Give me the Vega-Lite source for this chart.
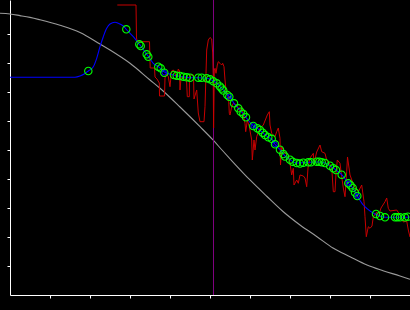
{
  "$schema": "https://vega.github.io/schema/vega-lite/v6.json",
  "width": 400,
  "height": 295,
  "autosize": "none",
  "padding": {"left": 10, "top": 0, "right": 0, "bottom": 15},
  "background": "#000000",
  "config": {
    "view": {"stroke": null},
    "axis": {"domainColor": "#ffffff", "domainWidth": 1, "tickColor": "#ffffff", "tickSize": 3, "tickWidth": 1, "labels": false, "grid": false, "title": null}
  },
  "datasets": {
    "gray": [
      {"x": -0.25, "y": 9.714}, {"x": 0, "y": 9.69}, {"x": 0.25, "y": 9.634}, {"x": 0.5, "y": 9.572}, {"x": 0.75, "y": 9.49},
      {"x": 1.25, "y": 9.3}, {"x": 1.75, "y": 9.052}, {"x": 2.25, "y": 8.655}, {"x": 2.5, "y": 8.448}, {"x": 3.0, "y": 7.99},
      {"x": 3.5, "y": 7.414}, {"x": 3.75, "y": 7.128}, {"x": 4.25, "y": 6.483}, {"x": 4.75, "y": 5.803}, {"x": 5.075, "y": 5.345},
      {"x": 5.3, "y": 5.0}, {"x": 5.575, "y": 4.586}, {"x": 6.0, "y": 3.966}, {"x": 6.425, "y": 3.397}, {"x": 6.825, "y": 2.879},
      {"x": 7.25, "y": 2.414}, {"x": 7.675, "y": 2.01}, {"x": 8.075, "y": 1.621}, {"x": 8.5, "y": 1.321}, {"x": 8.925, "y": 1.034},
      {"x": 9.325, "y": 0.838}, {"x": 9.75, "y": 0.655}, {"x": 10.0, "y": 0.541}
    ],
    "vline": [{"x": 5.0875}],
    "red": [
      {"x": 2.6825, "y": 10.0}, {"x": 3.15, "y": 10.0}, {"x": 3.1625, "y": 8.862}, {"x": 3.1825, "y": 8.734}, {"x": 3.4875, "y": 8.734},
      {"x": 3.505, "y": 7.828}, {"x": 3.6125, "y": 7.828}, {"x": 3.625, "y": 7.517}, {"x": 3.675, "y": 7.448}, {"x": 3.7325, "y": 7.31},
      {"x": 3.7375, "y": 6.862}, {"x": 3.8625, "y": 6.862}, {"x": 3.875, "y": 7.483}, {"x": 3.9125, "y": 7.621}, {"x": 3.9575, "y": 7.528},
      {"x": 4.0, "y": 7.183}, {"x": 4.0375, "y": 7.724}, {"x": 4.0825, "y": 7.759}, {"x": 4.125, "y": 7.655}, {"x": 4.1675, "y": 7.472},
      {"x": 4.2075, "y": 7.793}, {"x": 4.2375, "y": 7.724}, {"x": 4.25, "y": 7.069}, {"x": 4.275, "y": 7.483}, {"x": 4.3325, "y": 7.528},
      {"x": 4.4125, "y": 7.414}, {"x": 4.4325, "y": 6.838}, {"x": 4.4825, "y": 6.838}, {"x": 4.4875, "y": 7.586}, {"x": 4.5875, "y": 7.586},
      {"x": 4.6, "y": 6.759}, {"x": 4.6675, "y": 7.069}, {"x": 4.7075, "y": 6.276}, {"x": 4.75, "y": 5.976}, {"x": 4.85, "y": 5.976},
      {"x": 4.875, "y": 6.493}, {"x": 4.9, "y": 7.645}, {"x": 4.9175, "y": 8.448}, {"x": 4.9575, "y": 8.793}, {"x": 5.0, "y": 8.879},
      {"x": 5.0425, "y": 8.828}, {"x": 5.0675, "y": 8.345}, {"x": 5.08, "y": 7.586}, {"x": 5.09, "y": 5.759}, {"x": 5.1075, "y": 7.759},
      {"x": 5.125, "y": 7.817}, {"x": 5.15, "y": 7.645}, {"x": 5.1825, "y": 7.931}, {"x": 5.2075, "y": 8.045}, {"x": 5.25, "y": 7.99},
      {"x": 5.2925, "y": 7.931}, {"x": 5.3175, "y": 7.99}, {"x": 5.35, "y": 7.872}, {"x": 5.375, "y": 7.414}, {"x": 5.4, "y": 7.069},
      {"x": 5.4325, "y": 6.955}, {"x": 5.4625, "y": 6.828}, {"x": 5.4825, "y": 6.266}, {"x": 5.5, "y": 6.207}, {"x": 5.5425, "y": 6.493},
      {"x": 5.5825, "y": 6.61}, {"x": 5.6675, "y": 6.552}, {"x": 5.75, "y": 6.31}, {"x": 5.7925, "y": 6.493}, {"x": 5.8325, "y": 6.207},
      {"x": 5.875, "y": 5.921}, {"x": 5.8925, "y": 5.631}, {"x": 5.9175, "y": 5.862}, {"x": 5.9325, "y": 6.034}, {"x": 5.9825, "y": 5.803},
      {"x": 6.0425, "y": 5.345}, {"x": 6.0575, "y": 4.655}, {"x": 6.1, "y": 5.345}, {"x": 6.125, "y": 5.0}, {"x": 6.1675, "y": 5.459},
      {"x": 6.25, "y": 5.748}, {"x": 6.3325, "y": 5.862}, {"x": 6.4325, "y": 6.207}, {"x": 6.4825, "y": 6.321}, {"x": 6.5, "y": 5.862},
      {"x": 6.5425, "y": 5.576}, {"x": 6.625, "y": 5.459}, {"x": 6.6675, "y": 5.631}, {"x": 6.7075, "y": 5.759}, {"x": 6.75, "y": 5.403},
      {"x": 6.7625, "y": 4.483}, {"x": 6.7925, "y": 5.114}, {"x": 6.875, "y": 4.886}, {"x": 6.9575, "y": 4.828}, {"x": 7.0, "y": 4.541},
      {"x": 7.0425, "y": 4.138}, {"x": 7.0825, "y": 4.369}, {"x": 7.1, "y": 3.793}, {"x": 7.1675, "y": 3.966}, {"x": 7.2075, "y": 3.852},
      {"x": 7.25, "y": 4.138}, {"x": 7.3325, "y": 4.103}, {"x": 7.375, "y": 4.034}, {"x": 7.4175, "y": 3.734}, {"x": 7.45, "y": 4.379},
      {"x": 7.5, "y": 4.724}, {"x": 7.5825, "y": 4.886}, {"x": 7.6, "y": 4.541}, {"x": 7.6675, "y": 4.931}, {"x": 7.75, "y": 5.172},
      {"x": 7.7925, "y": 4.941}, {"x": 7.875, "y": 4.886}, {"x": 7.9175, "y": 4.655}, {"x": 8.0425, "y": 4.424}, {"x": 8.0825, "y": 3.562},
      {"x": 8.125, "y": 3.562}, {"x": 8.15, "y": 4.197}, {"x": 8.1825, "y": 4.655}, {"x": 8.25, "y": 4.541}, {"x": 8.2925, "y": 4.079},
      {"x": 8.3325, "y": 3.69}, {"x": 8.375, "y": 3.39}, {"x": 8.4175, "y": 4.252}, {"x": 8.4375, "y": 4.759}, {"x": 8.5, "y": 4.138},
      {"x": 8.6, "y": 3.759}, {"x": 8.7075, "y": 3.562}, {"x": 8.7925, "y": 3.793}, {"x": 8.85, "y": 3.217}, {"x": 8.875, "y": 2.7},
      {"x": 8.9075, "y": 2.01}, {"x": 8.9575, "y": 2.355}, {"x": 9.0, "y": 2.3}, {"x": 9.05, "y": 2.379}, {"x": 9.0825, "y": 2.7},
      {"x": 9.1675, "y": 2.862}, {"x": 9.2075, "y": 2.7}, {"x": 9.275, "y": 3.0}, {"x": 9.375, "y": 3.217}, {"x": 9.4175, "y": 3.345},
      {"x": 9.4575, "y": 2.99}, {"x": 9.5, "y": 2.897}, {"x": 9.6675, "y": 2.931}, {"x": 9.75, "y": 2.759}, {"x": 9.8325, "y": 2.517},
      {"x": 9.9175, "y": 2.552}, {"x": 9.9575, "y": 2.241}, {"x": 10.0, "y": 2.0}
    ],
    "blue": [
      {"x": 0, "y": 7.507}, {"x": 0.75, "y": 7.507}, {"x": 1.5, "y": 7.507}, {"x": 1.625, "y": 7.51}, {"x": 1.75, "y": 7.552},
      {"x": 1.875, "y": 7.638}, {"x": 1.9575, "y": 7.724}, {"x": 2.0825, "y": 7.872}, {"x": 2.1675, "y": 8.162}, {"x": 2.25, "y": 8.562},
      {"x": 2.3325, "y": 8.907}, {"x": 2.4175, "y": 9.197}, {"x": 2.5, "y": 9.345}, {"x": 2.625, "y": 9.403}, {"x": 2.7075, "y": 9.369},
      {"x": 2.8325, "y": 9.276}, {"x": 2.9075, "y": 9.162}, {"x": 3.0825, "y": 8.907}, {"x": 3.2325, "y": 8.645}, {"x": 3.2675, "y": 8.586},
      {"x": 3.4175, "y": 8.3}, {"x": 3.475, "y": 8.197}, {"x": 3.5825, "y": 7.99}, {"x": 3.7125, "y": 7.872}, {"x": 3.775, "y": 7.8},
      {"x": 3.8625, "y": 7.69}, {"x": 4.0825, "y": 7.586}, {"x": 4.2, "y": 7.552}, {"x": 4.3325, "y": 7.528}, {"x": 4.5, "y": 7.493},
      {"x": 4.7075, "y": 7.493}, {"x": 4.9175, "y": 7.472}, {"x": 5.0, "y": 7.438}, {"x": 5.0825, "y": 7.379}, {"x": 5.1675, "y": 7.31},
      {"x": 5.25, "y": 7.197}, {"x": 5.3325, "y": 7.069}, {"x": 5.4325, "y": 6.897}, {"x": 5.5, "y": 6.828}, {"x": 5.6, "y": 6.61},
      {"x": 5.7075, "y": 6.438}, {"x": 5.8325, "y": 6.241}, {"x": 5.9, "y": 6.128}, {"x": 6.0825, "y": 5.828}, {"x": 6.1825, "y": 5.748},
      {"x": 6.3175, "y": 5.597}, {"x": 6.4575, "y": 5.438}, {"x": 6.5425, "y": 5.379}, {"x": 6.625, "y": 5.197}, {"x": 6.75, "y": 5.01},
      {"x": 6.875, "y": 4.793}, {"x": 7.0, "y": 4.666}, {"x": 7.1675, "y": 4.552}, {"x": 7.3325, "y": 4.562}, {"x": 7.4825, "y": 4.576},
      {"x": 7.7, "y": 4.586}, {"x": 7.875, "y": 4.552}, {"x": 8.0, "y": 4.459}, {"x": 8.15, "y": 4.31}, {"x": 8.2925, "y": 4.148},
      {"x": 8.4575, "y": 3.852}, {"x": 8.5675, "y": 3.69}, {"x": 8.6825, "y": 3.414}, {"x": 8.8325, "y": 3.103}, {"x": 8.9175, "y": 2.99},
      {"x": 9.125, "y": 2.793}, {"x": 9.25, "y": 2.724}, {"x": 9.375, "y": 2.679}, {"x": 9.625, "y": 2.679}, {"x": 9.875, "y": 2.679},
      {"x": 10.0, "y": 2.69}
    ],
    "green": [
      {"x": 1.9575, "y": 7.724}, {"x": 2.9075, "y": 9.162}, {"x": 3.2325, "y": 8.645}, {"x": 3.2675, "y": 8.586}, {"x": 3.4175, "y": 8.3},
      {"x": 3.4575, "y": 8.217}, {"x": 3.7075, "y": 7.872}, {"x": 3.7675, "y": 7.817}, {"x": 3.8575, "y": 7.666}, {"x": 4.1, "y": 7.586},
      {"x": 4.1675, "y": 7.562}, {"x": 4.25, "y": 7.552}, {"x": 4.3325, "y": 7.528}, {"x": 4.4175, "y": 7.507}, {"x": 4.5, "y": 7.493},
      {"x": 4.7075, "y": 7.493}, {"x": 4.7925, "y": 7.493}, {"x": 4.9175, "y": 7.472}, {"x": 5.0, "y": 7.438}, {"x": 5.0825, "y": 7.369},
      {"x": 5.1675, "y": 7.3}, {"x": 5.25, "y": 7.19}, {"x": 5.2925, "y": 7.121}, {"x": 5.3325, "y": 7.052}, {"x": 5.4325, "y": 6.897},
      {"x": 5.4825, "y": 6.838}, {"x": 5.6, "y": 6.61}, {"x": 5.7075, "y": 6.438}, {"x": 5.7675, "y": 6.321}, {"x": 5.8325, "y": 6.241},
      {"x": 5.9, "y": 6.128}, {"x": 6.0825, "y": 5.828}, {"x": 6.1825, "y": 5.748}, {"x": 6.25, "y": 5.69}, {"x": 6.3175, "y": 5.597},
      {"x": 6.375, "y": 5.517}, {"x": 6.4575, "y": 5.438}, {"x": 6.5425, "y": 5.386}, {"x": 6.625, "y": 5.197}, {"x": 6.75, "y": 5.01},
      {"x": 6.8325, "y": 4.862}, {"x": 6.875, "y": 4.776}, {"x": 7.0, "y": 4.666}, {"x": 7.0675, "y": 4.597}, {"x": 7.1675, "y": 4.552},
      {"x": 7.25, "y": 4.534}, {"x": 7.3325, "y": 4.562}, {"x": 7.4575, "y": 4.576}, {"x": 7.525, "y": 4.576}, {"x": 7.6675, "y": 4.597},
      {"x": 7.7325, "y": 4.597}, {"x": 7.7925, "y": 4.576}, {"x": 7.875, "y": 4.552}, {"x": 8.0, "y": 4.459}, {"x": 8.0825, "y": 4.369},
      {"x": 8.15, "y": 4.31}, {"x": 8.2925, "y": 4.148}, {"x": 8.4575, "y": 3.852}, {"x": 8.5125, "y": 3.783}, {"x": 8.5675, "y": 3.69},
      {"x": 8.625, "y": 3.534}, {"x": 8.6825, "y": 3.414}, {"x": 9.15, "y": 2.793}, {"x": 9.25, "y": 2.724}, {"x": 9.375, "y": 2.679},
      {"x": 9.625, "y": 2.679}, {"x": 9.6825, "y": 2.679}, {"x": 9.75, "y": 2.679}, {"x": 9.875, "y": 2.679}, {"x": 9.95, "y": 2.7}
    ],
    "bluering": [
      {"x": 3.8575, "y": 7.666}, {"x": 5.4825, "y": 6.838}, {"x": 6.0825, "y": 5.828}, {"x": 6.625, "y": 5.197},
      {"x": 8.4575, "y": 3.852}, {"x": 8.6825, "y": 3.414}
    ]
  },
  "layer": [
    {"data": {"name": "gray"}, "mark": {"type": "line", "color": "#9a9a9a", "strokeWidth": 1.1, "interpolate": "monotone"},
     "encoding": {
       "x": {"field": "x", "type": "quantitative", "scale": {"domain": [0, 10], "nice": false, "zero": false}, "axis": {"values": [1, 2, 3, 4, 5, 6, 7, 8, 9]}},
       "y": {"field": "y", "type": "quantitative", "scale": {"domain": [0, 10.1724], "nice": false, "zero": false}, "axis": {"values": [1, 2, 3, 4, 5, 6, 7, 8, 9]}}
     }},
    {"data": {"name": "vline"}, "mark": {"type": "rule", "color": "#800080", "strokeWidth": 1, "opacity": 1},
     "encoding": {"x": {"field": "x", "type": "quantitative", "axis": {"values": [1, 2, 3, 4, 5, 6, 7, 8, 9]}}}},
    {"data": {"name": "red"}, "mark": {"type": "line", "color": "#c80000", "strokeWidth": 1},
     "encoding": {"x": {"field": "x", "type": "quantitative", "axis": {"values": [1, 2, 3, 4, 5, 6, 7, 8, 9]}}, "y": {"field": "y", "type": "quantitative", "axis": {"values": [1, 2, 3, 4, 5, 6, 7, 8, 9]}}}},
    {"data": {"name": "blue"}, "mark": {"type": "line", "color": "#0000ff", "strokeWidth": 1.1, "interpolate": "monotone"},
     "encoding": {"x": {"field": "x", "type": "quantitative", "axis": {"values": [1, 2, 3, 4, 5, 6, 7, 8, 9]}}, "y": {"field": "y", "type": "quantitative", "axis": {"values": [1, 2, 3, 4, 5, 6, 7, 8, 9]}}}},
    {"data": {"name": "green"}, "mark": {"type": "point", "shape": "circle", "filled": false, "color": "#00ff00", "strokeWidth": 1.1, "size": 55, "opacity": 1},
     "encoding": {"x": {"field": "x", "type": "quantitative", "axis": {"values": [1, 2, 3, 4, 5, 6, 7, 8, 9]}}, "y": {"field": "y", "type": "quantitative", "axis": {"values": [1, 2, 3, 4, 5, 6, 7, 8, 9]}}}},
    {"data": {"name": "bluering"}, "mark": {"type": "point", "shape": "circle", "filled": false, "color": "#0000ff", "strokeWidth": 1, "size": 20, "opacity": 1},
     "encoding": {"x": {"field": "x", "type": "quantitative", "axis": {"values": [1, 2, 3, 4, 5, 6, 7, 8, 9]}}, "y": {"field": "y", "type": "quantitative", "axis": {"values": [1, 2, 3, 4, 5, 6, 7, 8, 9]}}}}
  ]
}
